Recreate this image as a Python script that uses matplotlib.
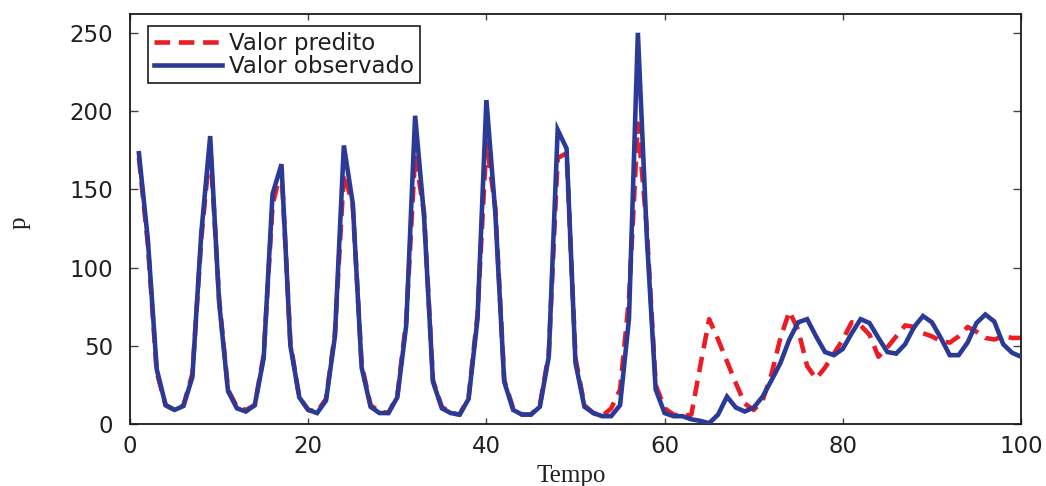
import numpy as np
import matplotlib
matplotlib.use("Agg")
import matplotlib.pyplot as plt

# Time steps and the two series
tempo = list(range(1, 101))

valor_observado = [
    173, 118, 35, 12, 9, 11.5, 30, 122, 184, 78,
    21, 10, 8, 12, 42, 147, 166, 50, 17, 9,
    7, 15, 56, 178, 141, 36, 11, 7, 7, 17,
    63, 197, 133, 27, 10, 7, 6, 16, 67, 207,
    135, 27, 9, 6, 6, 11, 43, 188, 176, 39,
    11, 7, 5, 5, 12, 67, 250, 120, 22, 7,
    5, 5, 3, 2, 0.5, 6, 17.5, 10.5, 8, 10.5,
    17.5, 28, 39, 54, 65, 67, 56, 46, 44, 48,
    58, 67, 64.5, 55, 46, 45, 51, 62, 69, 65,
    55, 44, 44, 52, 64.5, 70, 65.5, 51, 45.5, 43,
]

valor_predito = [
    170, 115, 33, 12, 9, 12, 32, 118, 178, 80,
    22, 11, 9, 12, 44, 140, 163, 52, 17, 9,
    8, 16, 58, 160, 140, 38, 12, 8, 7, 18,
    66, 172, 135, 28, 11, 7, 6, 17, 70, 180,
    138, 28, 10, 6, 6, 12, 45, 170, 173, 42,
    12, 7, 5, 10, 22, 80, 192, 125, 25, 10,
    6, 5, 6, 37, 67, 54, 40, 26, 13, 9,
    15, 32, 55, 72, 60, 37, 29, 36, 45, 54,
    65, 63, 57, 43, 49, 56, 63, 62, 58, 56,
    53, 52, 56, 62, 59, 55, 54, 56, 55, 55,
]

x_ticks = [0, 20, 40, 60, 80, 100]
y_ticks = [0, 50, 100, 150, 200, 250]

RED = "#ED1C24"
BLUE = "#2B3A96"
TXT = "#231F20"

fig = plt.figure(figsize=(10.46, 4.86), dpi=100)
ax = fig.add_axes([130 / 1046, 62 / 486, 891 / 1046, 410 / 486])

ax.plot(tempo, valor_predito, color=RED, lw=3.3, ls=(0, (3.4, 1.9)),
        label="Valor predito", zorder=2)
ax.plot(tempo, valor_observado, color=BLUE, lw=3.3, solid_joinstyle="miter",
        label="Valor observado", zorder=3)

ax.set_xlim(0, 100)
ax.set_ylim(0, 262)
ax.set_xticks(x_ticks)
ax.set_yticks(y_ticks)

tick_font = dict(family="DejaVu Sans", size=16.5)
ax.set_xticklabels([str(t) for t in x_ticks], **tick_font, color=TXT)
ax.set_yticklabels([str(t) for t in y_ticks], **tick_font, color=TXT)

ax.tick_params(axis="x", direction="in", top=True, bottom=True,
               length=4, width=1, color="#444444", pad=8)
ax.tick_params(axis="y", direction="in", left=True, right=True,
               length=6, width=1, color="#444444", pad=12)

for sp in ax.spines.values():
    sp.set_linewidth(1.3)
    sp.set_color("#1a1a1a")

ax.set_xlabel("Tempo", family="Liberation Serif", size=18, color=TXT)
ax.xaxis.set_label_coords(0.495, -0.100)
ax.set_ylabel("p", family="Liberation Serif", size=18, color=TXT)
ax.yaxis.set_label_coords(-0.112, 0.49)

leg = ax.legend(loc="upper left", bbox_to_anchor=(0.0202, 0.9707),
                borderaxespad=0, frameon=True, fancybox=False,
                framealpha=1, edgecolor="#1a1a1a",
                prop=dict(family="DejaVu Sans", size=16.5),
                handlelength=3.0, handletextpad=0.3,
                labelspacing=0.0, borderpad=0.25)
leg.get_frame().set_linewidth(1.2)
for t in leg.get_texts():
    t.set_color(TXT)

fig.savefig("out.png", dpi=100)
